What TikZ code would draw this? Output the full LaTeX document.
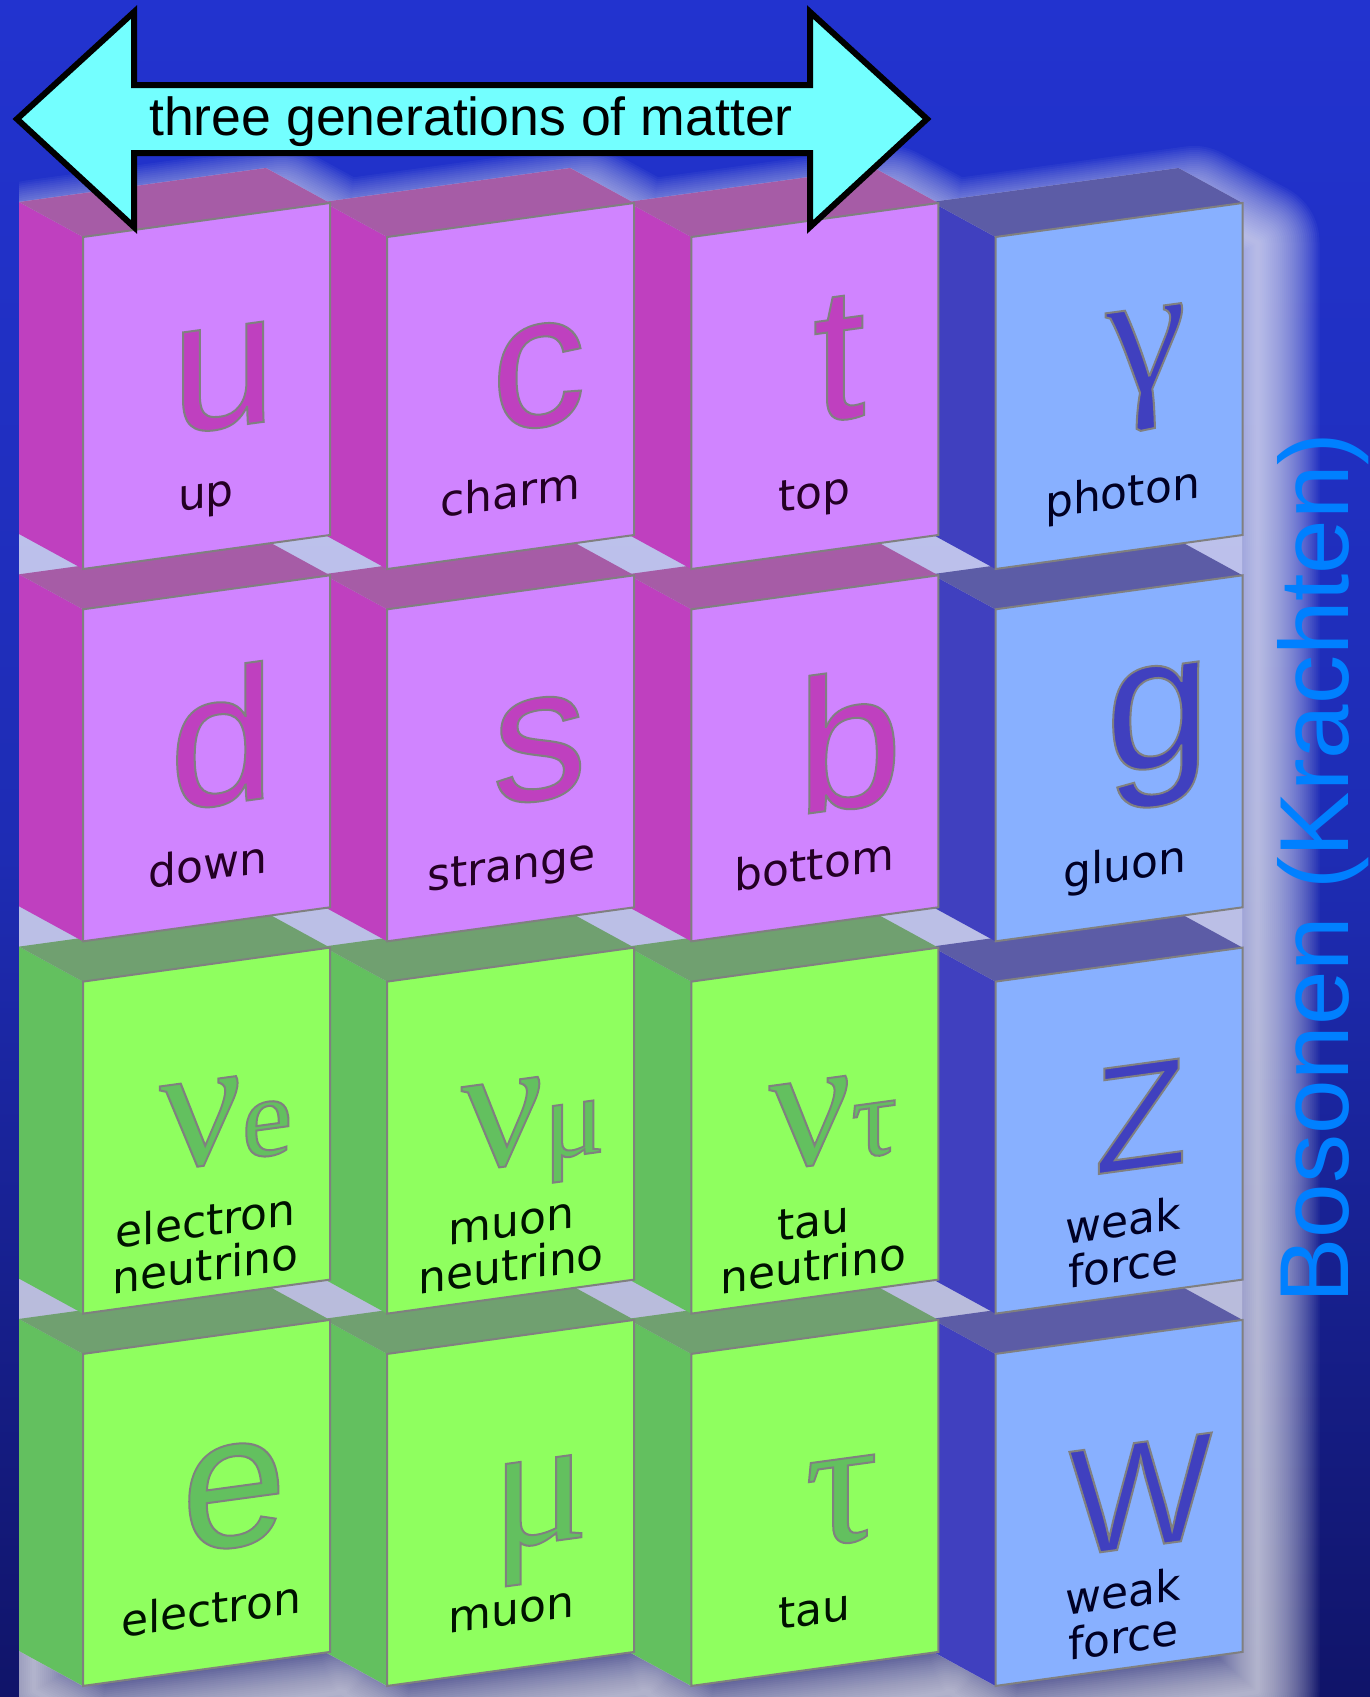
\documentclass[tikz,border=0pt]{standalone}
\usepackage{fontspec}
\setmainfont{DejaVu Sans}
\newfontfamily\labf{DejaVu Sans}
\newfontfamily\symf{Liberation Sans}
\newfontfamily\grkf{Liberation Serif}
\newfontfamily\arrf{Liberation Sans}

\definecolor{qfront}{RGB}{208,132,255}
\definecolor{qside}{RGB}{191,64,191}
\definecolor{qtop}{RGB}{166,92,166}
\definecolor{lfront}{RGB}{143,255,95}
\definecolor{lside}{RGB}{99,192,95}
\definecolor{ltop}{RGB}{112,160,112}
\definecolor{bfront}{RGB}{136,176,255}
\definecolor{bside}{RGB}{64,64,191}
\definecolor{btop}{RGB}{92,92,166}
\definecolor{edgec}{RGB}{128,128,128}
\definecolor{arrowfill}{RGB}{115,255,255}
\definecolor{bostext}{RGB}{0,128,255}
\definecolor{qlabc}{RGB}{36,0,36}
\definecolor{llabc}{RGB}{0,18,0}
\definecolor{blabc}{RGB}{0,0,36}
\definecolor{bgA}{RGB}{10,8,56}
\definecolor{bgB}{RGB}{16,20,105}
\definecolor{bgC}{RGB}{30,44,180}
\definecolor{bgD}{RGB}{34,51,207}

\pgfdeclareverticalshading{bgshade}{100bp}{color(0bp)=(bgA); color(25bp)=(bgB); color(50bp)=(bgC); color(75bp)=(bgD); color(100bp)=(bgD)}

\newcommand\outl[1]{\special{pdf:literal 2 Tr 0.5 0.5 0.5 RG 1 w}#1\special{pdf:literal 0 Tr}}
\newcommand\twolines[2]{\begin{tabular}[t]{@{}c@{}}#1\\#2\end{tabular}}

\newcommand\blk[3]{%
  \fill[#3side] (#1-64,#2-35) -- (#1,#2) -- (#1,#2+332) -- (#1-64,#2+297) -- cycle;
  \fill[#3top] (#1-64,#2-35) -- (#1+183,#2-69) -- (#1+247,#2-34) -- (#1,#2) -- cycle;
  \filldraw[fill=#3front, draw=edgec, line width=1pt, line join=miter] (#1,#2) -- (#1+247,#2-34) -- (#1+247,#2+298) -- (#1,#2+332) -- cycle;
}

\tikzset{
  glowpoly/.style={insert path={(19,202) -- (266,168) -- (330,203) -- (323.2,202) -- (570.2,168) -- (634.2,203) -- (627.3,202) -- (874.3,168) -- (938.3,203) -- (931.5,202) -- (1178.5,168) -- (1242.5,203) -- (1242.5,1652) -- (995.5,1686) -- (931.5,1651) -- (938.3,1652) -- (691.3,1686) -- (627.3,1651) -- (634.2,1652) -- (387.2,1686) -- (323.2,1651) -- (330,1652) -- (83,1686) -- (19,1651) -- cycle}},
  bigl/.style={inner sep=0, anchor=center, yslant=0.136, font=\symf\fontsize{95}{95}\selectfont},
  bigc/.style={inner sep=0, anchor=center, yslant=0.136, font=\symf\fontsize{76}{76}\selectfont},
  bigg/.style={inner sep=0, anchor=center, yslant=0.136, font=\grkf\fontsize{91}{91}\selectfont},
  lab/.style={inner sep=0, anchor=base, yslant=0.136, font=\labf\fontsize{22}{19}\selectfont},
  qs/.style={text=qside}, ls/.style={text=lside}, bs/.style={text=bside},
  ql/.style={text=qlabc}, ll/.style={text=llabc}, bl/.style={text=blabc},
}

\begin{document}
\begin{tikzpicture}[x=0.5pt,y=-0.5pt]
\useasboundingbox (0,0) rectangle (1370,1697);
\shade[shading=bgshade] (0,0) rectangle (1370,1697);

% soft glow behind the blocks (cast to the right and below)
\begin{scope}
  \clip (19,100) rectangle (1400,1720);
  \path[clip, insert path={(-60,-60) -- (-60,1760) -- (1430,1760) -- (1430,-60) -- cycle}, glowpoly];
  \begin{scope}[shift={(15,40)}]
    \foreach \r in {2,4,...,62} {
      \draw[white, draw opacity=0.038, line width=\r pt, line join=round, glowpoly];
    }
  \end{scope}
\end{scope}
\fill[white, fill opacity=0.7, glowpoly];

% blocks: bottom row first, right to left
\blk{995.5}{1353.9}{b}\blk{691.3}{1353.9}{l}\blk{387.2}{1353.9}{l}\blk{83}{1353.9}{l}
\blk{995.5}{981.6}{b}\blk{691.3}{981.6}{l}\blk{387.2}{981.6}{l}\blk{83}{981.6}{l}
\blk{995.5}{609.3}{b}\blk{691.3}{609.3}{q}\blk{387.2}{609.3}{q}\blk{83}{609.3}{q}
\blk{995.5}{237}{b}\blk{691.3}{237}{q}\blk{387.2}{237}{q}\blk{83}{237}{q}

% symbols
\node[bigl, qs] (su) at (223.5,378) {\outl{u}};
\node[bigl, qs] (sc) at (538.5,376) {\outl{c}};
\node[bigl, qs] (st) at (839,358.5) {\outl{t}};
\node[bigg, bs] (sgam) at (1146,369) {\outl{γ}};
\node[bigl, qs] (sd) at (222,736) {\outl{d}};
\node[bigl, qs] (ss) at (539.5,749.5) {\outl{s}};
\node[bigl, qs] (sb) at (849.5,740) {\outl{b}};
\node[bigl, bs] (sg) at (1158,736) {\outl{g}};
\node[bigg, ls, anchor=base] (snue) at (226,1161) {\outl{ν{\fontsize{57}{57}\selectfont e}}};
\node[bigg, ls, anchor=base] (snum) at (533,1161) {\outl{ν{\fontsize{57}{57}\selectfont μ}}};
\node[bigg, ls, anchor=base] (snut) at (833,1161) {\outl{ν{\fontsize{57}{57}\selectfont τ}}};
\node[bigc, bs] (sZ) at (1140.5,1116) {\outl{Z}};
\node[bigl, ls] (se) at (234,1496) {\outl{e}};
\node[bigg, ls] (smu) at (540,1520.5) {\outl{μ}};
\node[bigg, ls] (stau) at (841.5,1501.5) {\outl{τ}};
\node[bigc, bs] (sW) at (1140.5,1494.5) {\outl{W}};

% labels
\node[lab, ql] (lup) at (206,508) {up};
\node[lab, ql] (lcharm) at (510.2,508) {charm};
\node[lab, ql] (ltop) at (814.3,508) {top};
\node[lab, bl] (lphoton) at (1122.5,508) {photon};
\node[lab, ql] (ldown) at (208,880.3) {down};
\node[lab, ql] (lstrange) at (511.2,880.3) {strange};
\node[lab, ql] (lbottom) at (814.3,880.3) {bottom};
\node[lab, bl] (lgluon) at (1124.5,880.3) {gluon};
\node[lab, ll] (lenu) at (205.6,1236.6) {\twolines{electron}{neutrino}};
\node[lab, ll] (lmnu) at (511.2,1236.6) {\twolines{muon}{neutrino}};
\node[lab, ll] (ltnu) at (813.3,1236.6) {\twolines{tau}{neutrino}};
\node[lab, bl] (lwz) at (1123.5,1236.6) {\twolines{weak}{force}};
\node[lab, ll] (lelectron) at (211,1624.9) {electron};
\node[lab, ll] (lmuon) at (511.2,1624.9) {muon};
\node[lab, ll] (ltau) at (814.3,1624.9) {tau};
\node[lab, bl] (lww) at (1123.5,1607.9) {\twolines{weak}{force}};

% double arrow
\draw[fill=arrowfill, draw=black, line width=3pt, line join=miter] (17,119) -- (134,12) -- (134,85) -- (810,85) -- (810,12) -- (927,119) -- (810,227) -- (810,153) -- (134,153) -- (134,227) -- cycle;
\node[inner sep=0, anchor=base, font=\arrf\fontsize{26.8}{26.8}\selectfont] (gen) at (471,135) {three generations of matter};

% side title
\node[inner sep=0, anchor=base, rotate=90, text=bostext, font=\arrf\fontsize{49}{49}\selectfont] (bos) at (1348,868) {Bosonen (Krachten)};
\end{tikzpicture}
\end{document}
